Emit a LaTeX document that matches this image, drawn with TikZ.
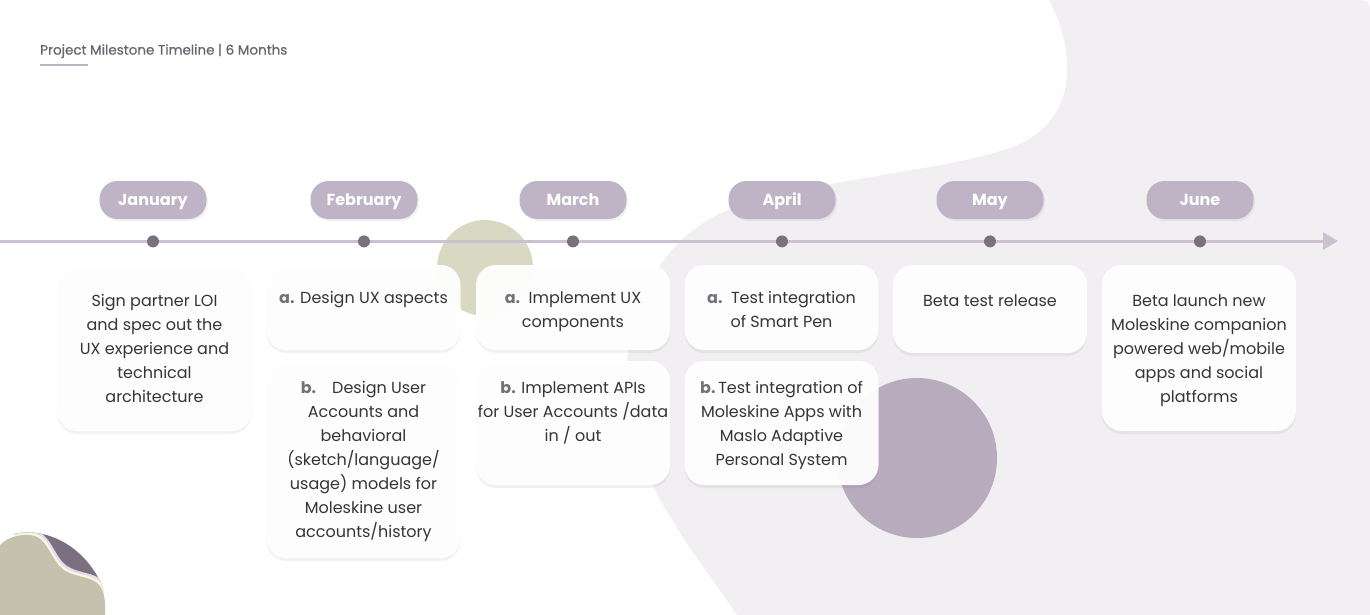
\documentclass[tikz,border=0pt]{standalone}
\usepackage{fontspec}
\setmainfont{Poppins}
\newfontfamily\monthfont{Poppins}
\newfontfamily\titlefont{Poppins}[FakeBold=0.6]
\usetikzlibrary{arrows.meta,shadows,positioning}

\definecolor{bgGrey}{HTML}{F1EFF2}
\definecolor{pillPurple}{HTML}{BFB3C6}
\definecolor{lineLilac}{HTML}{CBC1D0}
\definecolor{dotGrey}{HTML}{7A7080}
\definecolor{circlePurple}{HTML}{B8ABBE}
\definecolor{circleOlive}{HTML}{D9D8C3}
\definecolor{blobOlive}{HTML}{C4C2AE}
\definecolor{blobDark}{HTML}{7A7080}
\definecolor{blobLavender}{HTML}{E6D8F0}
\definecolor{blobCream}{HTML}{FAF8DA}
\definecolor{textDark}{HTML}{363438}
\definecolor{labelGrey}{HTML}{77707B}
\definecolor{titleGrey}{HTML}{6A636E}

\tikzset{
	monthpill/.style={fill=pillPurple, rounded corners=18pt, minimum width=107pt,
		minimum height=38pt, text=white, text height=14.5pt, text depth=3.5pt,
		font=\monthfont\fontsize{16}{16}\selectfont\bfseries,
		drop shadow={shadow xshift=1.5pt, shadow yshift=-2pt, opacity=0.05, fill=black}},
	milestone/.style={circle, fill=dotGrey, inner sep=0pt, minimum size=12pt},
	card/.style={fill=white, fill opacity=0.95, rounded corners=20pt, minimum width=194pt,
		drop shadow={shadow xshift=0pt, shadow yshift=-3pt, opacity=0.05, fill=black}},
	cardtext/.style={inner sep=0pt, align=center, text=textDark,
		font=\fontsize{16}{24}\selectfont},
	timeline/.style={draw=lineLilac, line width=3pt, -{Triangle[length=15pt,width=17pt]}},
	titleline/.style={draw=pillPurple, line width=2pt}
}
\newcommand{\itemlabel}[1]{{\color{labelGrey}\bfseries #1}}

\begin{document}
\begin{tikzpicture}[x=1pt,y=-1pt]
		
		\useasboundingbox (0,0) rectangle (1370,615);
		
		%Background shapes
		\fill[bgGrey] (1049,0) -- (1352,0) .. controls (1370,0) .. (1370,18) -- (1370,615) 
		-- (737,615) .. controls (700,560) and (640,490) .. (628,410) 
		.. controls (618,330) and (650,245) .. (723,212) 
		.. controls (800,180) and (960,170) .. (1017,145) 
		.. controls (1080,118) and (1075,50) .. (1049,0) -- cycle;
		\fill[circleOlive] (485,268) circle (48);
		\fill[circlePurple] (917,458) circle (80);
		
		%Corner blob
		\begin{scope}
			\clip (14,534) .. controls (50,526) and (88,550) .. (103,588) -- (103,615) 
			-- (14,615) -- cycle;
			\fill[blobDark] (0,520) rectangle (110,615);
			\fill[blobLavender, shift={(3,-4)}] (0,545) .. controls (8,536) and (25,533) .. (35,536) 
			.. controls (48,540) and (52,562) .. (64,570) .. controls (76,578) and (93,576) .. (100,586) 
			-- (110,620) -- (0,620) -- cycle;
			\fill[blobCream, shift={(1.5,-2)}] (0,545) .. controls (8,536) and (25,533) .. (35,536) 
			.. controls (48,540) and (52,562) .. (64,570) .. controls (76,578) and (93,576) .. (100,586) 
			-- (110,620) -- (0,620) -- cycle;
		\end{scope}
		\fill[blobOlive] (0,545) .. controls (8,536) and (25,533) .. (35,536) 
		.. controls (48,540) and (52,562) .. (64,570) .. controls (76,578) and (93,576) .. (100,586) 
		.. controls (106,596) and (105,605) .. (105,615) -- (0,615) -- cycle;
		
		%Title
		\node (title) at (40,51) [anchor=west, inner sep=0pt, text=titleGrey, 
		font=\titlefont\fontsize{13.5}{15}\selectfont]{Project Milestone Timeline | 6 Months};
		\draw[titleline] ([yshift=-7pt]title.south west) -- ++(48,0);
		
		%Timeline
		\coordinate (lineStart) at (0,241);
		\coordinate (lineTip) at (1338,241);
		\draw[timeline] (lineStart) -- (lineTip);
		
		%Month pills
		\node (janPill) at (153,200) [monthpill]{January};
		\node (febPill) at (364,200) [monthpill]{February};
		\node (marPill) at (573,200) [monthpill]{March};
		\node (aprPill) at (782,200) [monthpill]{April};
		\node (mayPill) at (990,200) [monthpill]{May};
		\node (junPill) at (1200,200) [monthpill]{June};
		
		%Milestone dots
		\node (janDot) [milestone, below=16pt of janPill]{};
		\node (febDot) [milestone, below=16pt of febPill]{};
		\node (marDot) [milestone, below=16pt of marPill]{};
		\node (aprDot) [milestone, below=16pt of aprPill]{};
		\node (mayDot) [milestone, below=16pt of mayPill]{};
		\node (junDot) [milestone, below=16pt of junPill]{};
		
		%Cards
		\node (janCard) at (154.5,348) [card, minimum height=166pt]{};
		\node (febCardA) at (363.5,307.5) [card, minimum height=85pt]{};
		\node (febCardB) at (363.5,459.5) [card, minimum height=197pt]{};
		\node (marCardA) at (573,307.5) [card, minimum height=85pt]{};
		\node (marCardB) at (573,423) [card, minimum height=124pt]{};
		\node (aprCardA) at (781.5,307.5) [card, minimum height=85pt]{};
		\node (aprCardB) at (781.5,423) [card, minimum height=124pt]{};
		\node (mayCard) at (990,309) [card, minimum height=88pt]{};
		\node (junCard) at (1199,348) [card, minimum height=166pt]{};
		
		%Card texts
		\node (janText) [cardtext, below=29.5pt of janCard.north]{Sign partner LOI\\ 
		and spec out the\\UX experience and\\technical\\architecture};
		\node (febTextA) [cardtext, below=26.5pt of febCardA.north]{\itemlabel{a.} Design UX aspects};
		\node (febTextB) [cardtext, below=20.5pt of febCardB.north]{\itemlabel{b.}\quad Design User\\
		Accounts and\\behavioral\\(sketch/language/\\usage) models for\\Moleskine user\\
		accounts/history};
		\node (marTextA) [cardtext, below=26.5pt of marCardA.north]{\itemlabel{a.}\ \ Implement UX\\
		components};
		\node (marTextB) [cardtext, below=20.5pt of marCardB.north]{\itemlabel{b.} Implement APIs\\
		for User Accounts /data\\in / out};
		\node (aprTextA) [cardtext, below=26.5pt of aprCardA.north]{\itemlabel{a.}\ \ Test integration\\
		of Smart Pen};
		\node (aprTextB) [cardtext, below=20.5pt of aprCardB.north]{\itemlabel{b.}\,Test integration of\\
		Moleskine Apps with\\Maslo Adaptive\\Personal System};
		\node (mayText) [cardtext, below=29.5pt of mayCard.north]{Beta test release};
		\node (junText) [cardtext, below=29.5pt of junCard.north]{Beta launch new\\
		Moleskine companion\\powered web/mobile\\apps and social\\platforms};
		
\end{tikzpicture}
\end{document}
